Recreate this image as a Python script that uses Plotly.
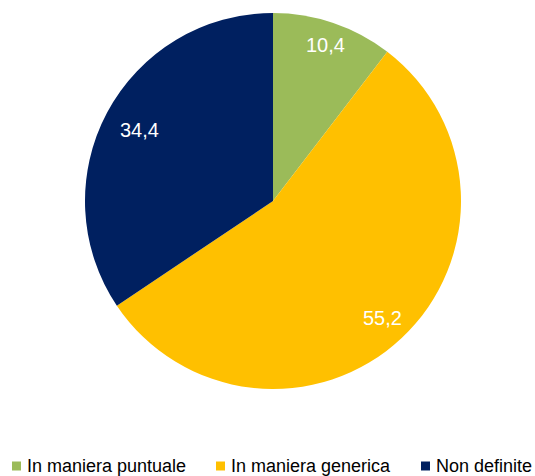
import math
import plotly.graph_objects as go

categories = ["In maniera puntuale", "In maniera generica", "Non definite"]
shares = [10.4, 55.2, 34.4]
colors = ["#9BBB59", "#FFC000", "#002060"]

W, H = 535, 476
cx, cy, r = 273, 201, 188
FONT = "Liberation Sans, Arial, sans-serif"

# radial placement of value labels (fraction of the radius), one per slice
label_radius = [0.878, 0.851, 0.803]
# legend layout: left edge of each swatch, swatch size, vertical centre
legend_x = [12, 216, 421]
swatch = 9
legend_y = 466

fig = go.Figure(
    go.Pie(
        labels=categories,
        values=shares,
        sort=False,
        direction="clockwise",
        rotation=0,
        marker=dict(colors=colors, line=dict(width=0)),
        textinfo="none",
        hoverinfo="label+value",
        domain=dict(x=[(cx - r) / W, (cx + r) / W], y=[1 - (cy + r) / H, 1 - (cy - r) / H]),
        showlegend=False,
    )
)

# value labels at each slice's mid-angle (clockwise from 12 o'clock)
total = sum(shares)
cum = 0.0
for v, fr in zip(shares, label_radius):
    mid = (cum + v / 2) / total * 2 * math.pi
    cum += v
    px = cx + fr * r * math.sin(mid)
    py = cy - fr * r * math.cos(mid)
    fig.add_annotation(
        x=px / W, y=1 - py / H, xref="paper", yref="paper",
        text=f"{v:.1f}".replace(".", ","), showarrow=False,
        xanchor="center", yanchor="middle",
        font=dict(family=FONT, size=20, color="white"),
    )

# legend built from swatches and text
for name, col, lx in zip(categories, colors, legend_x):
    fig.add_shape(
        type="rect", xref="paper", yref="paper",
        x0=lx / W, x1=(lx + swatch) / W,
        y0=1 - (legend_y + swatch / 2) / H, y1=1 - (legend_y - swatch / 2) / H,
        fillcolor=col, line=dict(width=0),
    )
    fig.add_annotation(
        x=(lx + 13) / W, y=1 - (legend_y - 0.5) / H, xref="paper", yref="paper",
        text=name, showarrow=False, xanchor="left", yanchor="middle",
        font=dict(family=FONT, size=18, color="black"),
    )

fig.update_layout(
    width=W,
    height=H,
    margin=dict(l=0, r=0, t=0, b=0),
    paper_bgcolor="white",
    plot_bgcolor="white",
    separators=",.",
    showlegend=False,
)

fig.write_html("out.html")
